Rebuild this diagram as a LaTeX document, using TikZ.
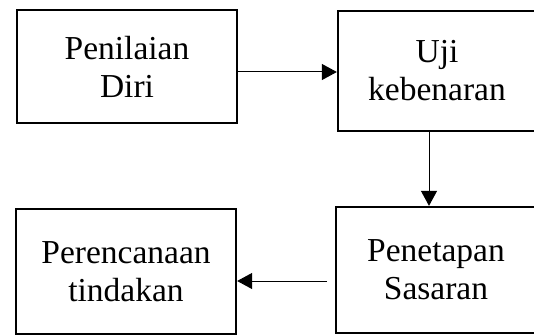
\documentclass[tikz,border=0pt]{standalone}
\usepackage{fontspec}
\setmainfont{Liberation Serif}
\usetikzlibrary{arrows.meta}
\begin{document}
\begin{tikzpicture}[x=1pt,y=-1pt,
  box/.style={draw, line width=2.3pt, inner sep=0pt, align=center,
    font=\fontsize{33.5}{38}\selectfont},
  conn/.style={line width=1pt, -{Triangle[length=15pt,width=16pt]}}]
\useasboundingbox (0,0) rectangle (534,334);
\node[box, minimum width=220pt, minimum height=113pt] (pd) at (127,66.5) {Penilaian\\Diri};
\node[box, minimum width=198pt, minimum height=120pt] (uk) at (437,71) {Uji\\kebenaran};
\node[box, minimum width=200pt, minimum height=126pt] (ps) at (436,270) {Penetapan\\Sasaran};
\node[box, minimum width=220pt, minimum height=125pt] (pt) at (126,271.5) {Perencanaan\\tindakan};
\draw[conn] (pd.east |- 0,72) -- (uk.west |- 0,72);
\draw[conn] (uk.south -| 429,0) -- (ps.north -| 429,0);
\coordinate (s3) at (327,281);
\draw[conn] (s3) -- (pt.east |- s3);
\end{tikzpicture}
\end{document}
